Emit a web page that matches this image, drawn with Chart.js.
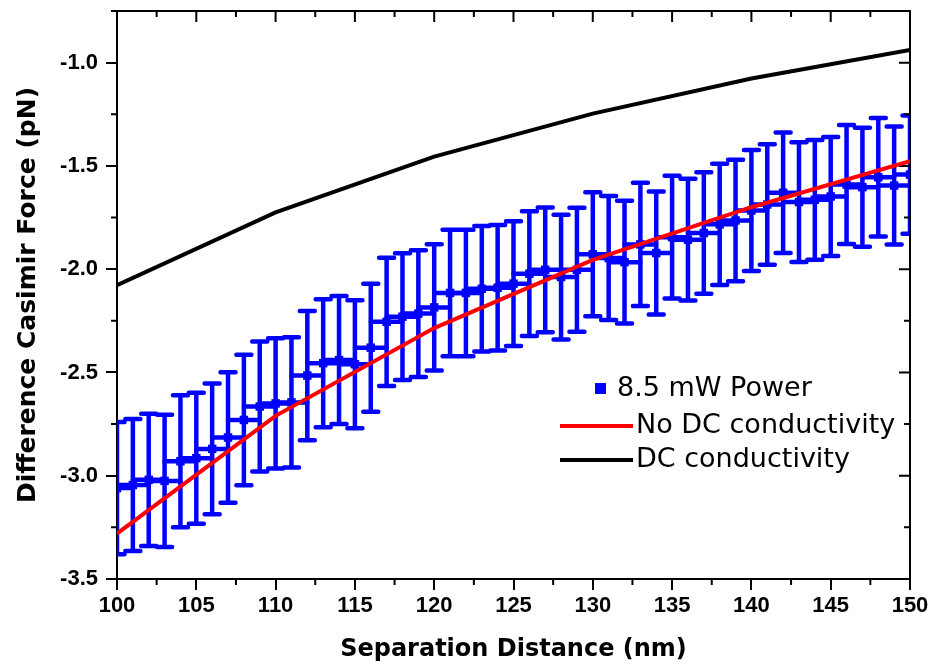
<!DOCTYPE html>
<html>
<head>
<meta charset="utf-8">
<script src="https://cdn.jsdelivr.net/npm/chart.js@4.4.1/dist/chart.umd.min.js"></script>
<style>
  html, body { margin: 0; padding: 0; background: #fff; }
  canvas { display: block; }
</style>
</head>
<body>
<canvas id="casimirChart" width="933" height="665"></canvas>
<script>
// measured points, one per nm
const separation = [
  100, 101, 102, 103, 104, 105, 106, 107, 108, 109,
  110, 111, 112, 113, 114, 115, 116, 117, 118, 119,
  120, 121, 122, 123, 124, 125, 126, 127, 128, 129,
  130, 131, 132, 133, 134, 135, 136, 137, 138, 139,
  140, 141, 142, 143, 144, 145, 146, 147, 148, 149, 150
];
const forceMeasured = [
  -3.06, -3.045, -3.02, -3.025, -2.93, -2.915, -2.87, -2.815, -2.73, -2.665,
  -2.65, -2.645, -2.515, -2.455, -2.44, -2.46, -2.38, -2.255, -2.23, -2.215,
  -2.185, -2.115, -2.115, -2.095, -2.09, -2.07, -2.022, -2.003, -2.038, -2.003,
  -1.928, -1.946, -1.966, -1.88, -1.922, -1.845, -1.857, -1.825, -1.783, -1.764,
  -1.716, -1.687, -1.63, -1.675, -1.664, -1.648, -1.59, -1.603, -1.555, -1.595, -1.542
];
const forceError = [
  0.32, 0.32, 0.32, 0.32, 0.32, 0.317, 0.317, 0.316, 0.316, 0.315,
  0.315, 0.315, 0.313, 0.31, 0.31, 0.31, 0.31, 0.31, 0.307, 0.307,
  0.306, 0.306, 0.306, 0.304, 0.304, 0.302, 0.302, 0.302, 0.302, 0.3,
  0.3, 0.3, 0.297, 0.298, 0.298, 0.297, 0.295, 0.294, 0.294, 0.294,
  0.293, 0.292, 0.292, 0.29, 0.29, 0.288, 0.288, 0.288, 0.287, 0.286, 0.286
];
const separationError = 1;

// theory curves
const theorySeparation = [100, 110, 120, 130, 140, 150];
const forceNoDc = [-3.28, -2.71, -2.285, -1.955, -1.70, -1.477];
const forceDc = [-2.078, -1.725, -1.455, -1.247, -1.077, -0.939];

const xMajorTicks = [100, 105, 110, 115, 120, 125, 130, 135, 140, 145, 150];
const xMinorTicks = [102.5, 107.5, 112.5, 117.5, 122.5, 127.5, 132.5, 137.5, 142.5, 147.5];
const yMajorTicks = [-3.5, -3.0, -2.5, -2.0, -1.5, -1.0];
const yMinorTicks = [-3.25, -2.75, -2.25, -1.75, -1.25, -0.75];

const seriesLabels = ['8.5 mW Power', 'No DC conductivity', 'DC conductivity'];

const toPoints = (xs, ys) => xs.map((x, i) => ({x: x, y: ys[i]}));

const MAJOR = 11, MINOR = 6;

// x and y error bars for the measured series
const errorBars = {
  id: 'errorBars',
  beforeDatasetsDraw(chart) {
    const {ctx, chartArea: a, scales: {x, y}} = chart;
    ctx.save();
    ctx.beginPath();
    ctx.rect(a.left, a.top, a.right - a.left, a.bottom - a.top);
    ctx.clip();
    ctx.strokeStyle = '#0000ff';
    ctx.lineWidth = 4.5;
    ctx.lineCap = 'round';
    separation.forEach((s, i) => {
      const px = x.getPixelForValue(s);
      const py = y.getPixelForValue(forceMeasured[i]);
      const top = y.getPixelForValue(forceMeasured[i] + forceError[i]);
      const bot = y.getPixelForValue(forceMeasured[i] - forceError[i]);
      ctx.beginPath();
      ctx.moveTo(px, top); ctx.lineTo(px, bot);
      ctx.moveTo(px - 7.5, top); ctx.lineTo(px + 7.5, top);
      ctx.moveTo(px - 7.5, bot); ctx.lineTo(px + 7.5, bot);
      ctx.moveTo(x.getPixelForValue(s - separationError), py);
      ctx.lineTo(x.getPixelForValue(s + separationError), py);
      ctx.stroke();
    });
    ctx.restore();
  }
};

// closed frame with minor ticks and mirrored inward ticks on top/right
const frame = {
  id: 'frame',
  beforeDatasetsDraw(chart) {
    const {ctx, chartArea: a, scales: {x, y}} = chart;
    ctx.save();
    ctx.strokeStyle = '#000';
    ctx.lineWidth = 2;
    ctx.beginPath();
    ctx.moveTo(a.left, a.top); ctx.lineTo(a.right, a.top); ctx.lineTo(a.right, a.bottom);
    xMinorTicks.forEach(v => {
      const px = x.getPixelForValue(v);
      ctx.moveTo(px, a.bottom); ctx.lineTo(px, a.bottom + MINOR);
      ctx.moveTo(px, a.top); ctx.lineTo(px, a.top + MINOR);
    });
    xMajorTicks.forEach(v => {
      const px = x.getPixelForValue(v);
      ctx.moveTo(px, a.top); ctx.lineTo(px, a.top + MAJOR);
    });
    yMinorTicks.forEach(v => {
      const py = y.getPixelForValue(v);
      ctx.moveTo(a.left, py); ctx.lineTo(a.left - MINOR, py);
      ctx.moveTo(a.right, py); ctx.lineTo(a.right - MINOR, py);
    });
    yMajorTicks.forEach(v => {
      const py = y.getPixelForValue(v);
      ctx.moveTo(a.right, py); ctx.lineTo(a.right - MAJOR, py);
    });
    ctx.stroke();
    ctx.restore();
  }
};

// legend inside the plot
const insideLegend = {
  id: 'insideLegend',
  afterDatasetsDraw(chart) {
    const {ctx} = chart;
    const ds = chart.data.datasets;
    ctx.save();
    ctx.font = '27px "DejaVu Sans"';
    ctx.textBaseline = 'middle';

    ctx.fillStyle = ds[0].backgroundColor;
    ctx.fillRect(595, 383, 11, 11);
    ctx.fillStyle = '#000';
    ctx.fillText(ds[0].label, 617, 389);

    [[1, 426], [2, 460]].forEach(([i, ly]) => {
      ctx.strokeStyle = ds[i].borderColor;
      ctx.lineWidth = 4;
      ctx.beginPath();
      ctx.moveTo(560, ly); ctx.lineTo(633, ly);
      ctx.stroke();
      ctx.fillText(ds[i].label, 636, ly);
    });
    ctx.restore();
  }
};

const tickFont = {family: '"Liberation Sans", Arial, sans-serif', size: 22, weight: 'bold'};
const titleFont = {family: '"DejaVu Sans", sans-serif', size: 24, weight: 'bold'};

new Chart(document.getElementById('casimirChart'), {
  type: 'scatter',
  data: {
    datasets: [{
      label: seriesLabels[0],
      data: toPoints(separation, forceMeasured),
      backgroundColor: '#0000ff',
      borderColor: '#0000ff',
      pointStyle: 'rect',
      pointRadius: 6,
      borderWidth: 0,
      order: 3
    }, {
      label: seriesLabels[1],
      data: toPoints(theorySeparation, forceNoDc),
      showLine: true,
      borderColor: '#ff0000',
      backgroundColor: '#ff0000',
      borderWidth: 4,
      pointRadius: 0,
      order: 1
    }, {
      label: seriesLabels[2],
      data: toPoints(theorySeparation, forceDc),
      showLine: true,
      borderColor: '#000000',
      backgroundColor: '#000000',
      borderWidth: 4,
      pointRadius: 0,
      order: 2
    }]
  },
  options: {
    responsive: false,
    animation: false,
    devicePixelRatio: 1,
    layout: {padding: {top: 11, right: 23, left: 0, bottom: 0}},
    plugins: {legend: {display: false}, tooltip: {enabled: false}},
    scales: {
      x: {
        type: 'linear',
        min: 100,
        max: 150,
        afterFit: s => { s.height = 86; s.paddingLeft = 0; s.paddingRight = 0; },
        afterBuildTicks: s => { s.ticks = xMajorTicks.map(v => ({value: v})); },
        border: {display: true, color: '#000', width: 2},
        grid: {drawOnChartArea: false, drawTicks: true, tickLength: MAJOR, color: '#000', lineWidth: 2},
        ticks: {color: '#000', font: tickFont, padding: 3, maxRotation: 0, callback: v => String(v)},
        title: {display: true, text: 'Separation Distance (nm)', color: '#000', font: titleFont, padding: {top: 4, bottom: 1}}
      },
      y: {
        type: 'linear',
        min: -3.5,
        max: -0.75,
        afterFit: s => { s.width = 117; s.paddingTop = 0; s.paddingBottom = 0; },
        afterBuildTicks: s => { s.ticks = yMajorTicks.map(v => ({value: v})); },
        border: {display: true, color: '#000', width: 2},
        grid: {drawOnChartArea: false, drawTicks: true, tickLength: MAJOR, color: '#000', lineWidth: 2},
        ticks: {color: '#000', font: tickFont, padding: 8, callback: v => v.toFixed(1)},
        title: {display: true, text: 'Difference Casimir Force (pN)', color: '#000', font: {...titleFont, size: 25}, padding: {top: 13, bottom: 0}}
      }
    }
  },
  plugins: [errorBars, frame, insideLegend]
});
</script>
</body>
</html>
